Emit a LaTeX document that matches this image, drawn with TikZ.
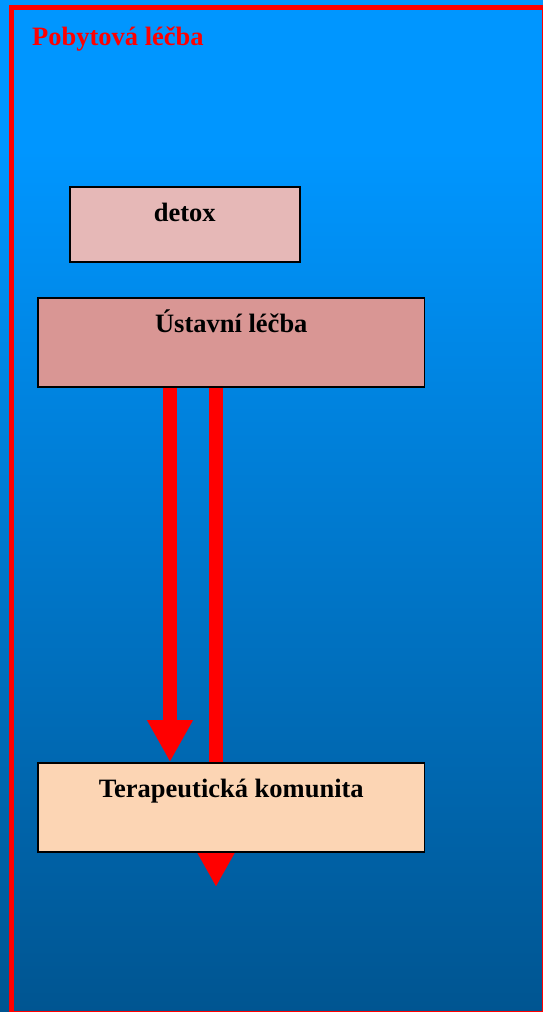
\documentclass[tikz,border=0pt]{standalone}
\usepackage{fontspec}
\setmainfont{Liberation Serif}
\usetikzlibrary{arrows.meta,calc}

\definecolor{bgtop}{RGB}{0,150,255}
\definecolor{bgbottom}{RGB}{0,85,145}
\definecolor{detoxfill}{RGB}{230,184,183}
\definecolor{ustavfill}{RGB}{217,150,148}
\definecolor{komfill}{RGB}{252,213,180}
\definecolor{flowred}{RGB}{255,0,0}

\pgfdeclarelayer{bg}
\pgfdeclarelayer{flowlayer}
\pgfsetlayers{bg,flowlayer,main}

\tikzset{
  stagebox/.style={draw=black, line width=1.5pt, inner sep=0pt, anchor=north west,
    align=center, text height=34.5pt, font=\fontsize{26.5}{30}\selectfont\bfseries},
  flow/.style={draw=flowred, line width=14pt,
    -{Triangle[length=42pt,width=43pt]}},
  title/.style={anchor=base west, inner sep=0pt, text=flowred,
    font=\fontsize{26.5}{30}\selectfont\bfseries}
}

\begin{document}
\begin{tikzpicture}[x=1pt,y=-1pt]
  \useasboundingbox (0,0) rectangle (543,1012);

  \begin{pgfonlayer}{bg}
    % background: flat light blue on top, fading to dark blue below
    \fill[bgtop] (0,0) rectangle (543,150);
    \shade[top color=bgtop, bottom color=bgbottom] (0,149.5) rectangle (543,1012);
  \end{pgfonlayer}

  % red frame
  \draw[flowred, line width=5pt] (11.5,7.5) rectangle (544.5,1013.5);

  \node[title] (ttl) at (32,45) {Pobytová léčba};

  % stages
  \node[stagebox, fill=detoxfill, minimum width=230pt, text depth=40.5pt]
    (detox) at (69,186) {detox};
  \node[stagebox, fill=ustavfill, minimum width=386.5pt, text depth=54.5pt]
    (ustav) at (37.3,297) {Ústavní léčba};
  \node[stagebox, fill=komfill, minimum width=386.5pt, text depth=54.5pt]
    (kom) at (37.3,762) {Terapeutická komunita};

  % flow arrows, running behind the boxes
  \coordinate (a1) at (170,0);
  \coordinate (a2) at (216,0);
  \coordinate (a2end) at (216,887);
  \begin{pgfonlayer}{flowlayer}
    \draw[flow] (ustav.south -| a2) -- (a2end);
    \draw[flow] (ustav.south -| a1) -- (kom.north -| a1);
  \end{pgfonlayer}
\end{tikzpicture}
\end{document}
